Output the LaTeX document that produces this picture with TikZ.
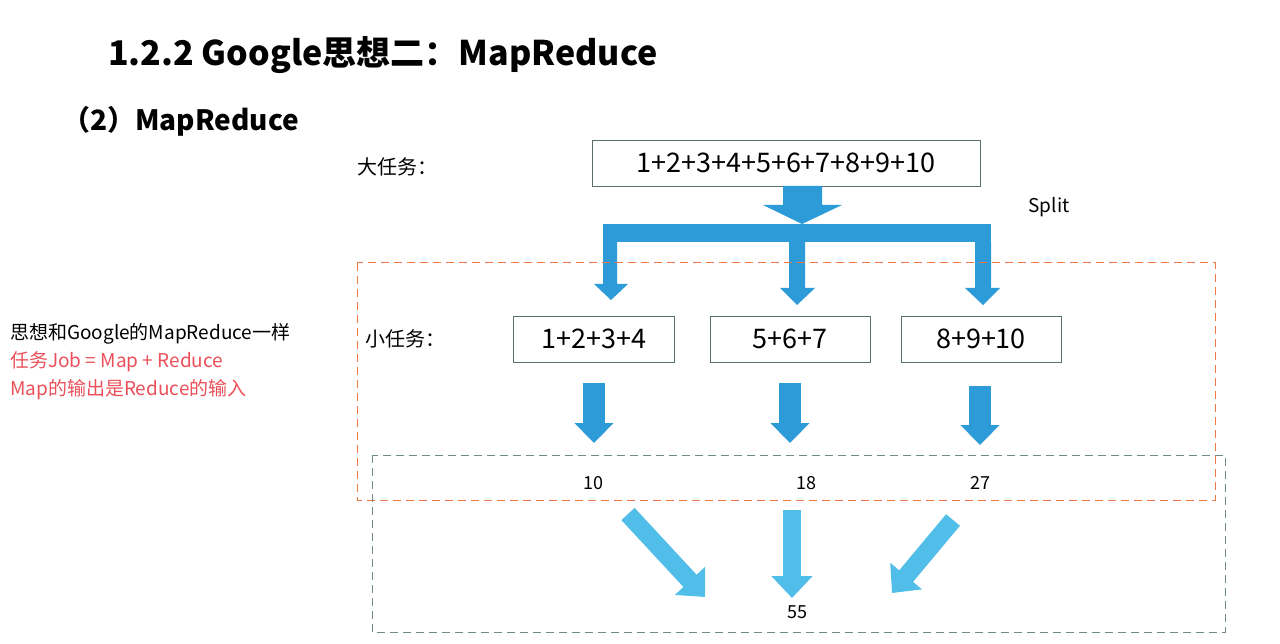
\documentclass[tikz,border=0pt]{standalone}
\usepackage{fontspec}
\setmainfont{Noto Sans CJK SC}
\usetikzlibrary{arrows.meta}
\definecolor{ablue}{RGB}{45,155,215}
\definecolor{lblue}{RGB}{80,190,232}
\definecolor{dorange}{RGB}{240,120,70}
\definecolor{dteal}{RGB}{110,140,140}
\definecolor{rtext}{RGB}{235,80,90}
\tikzset{
 task/.style={draw=dteal!80!black,line width=0.8pt,minimum height=46pt,inner sep=0pt,font=\fontsize{27}{27}\selectfont},
 lbl/.style={font=\fontsize{20}{20}\selectfont,anchor=west,inner sep=0pt},
 num/.style={font=\fontsize{18}{18}\selectfont,inner sep=0pt},
 downarr/.style={draw=ablue,line width=22pt,-{Triangle[length=20pt,width=38pt]}},
 diagarr/.style={draw=lblue,line width=18pt,-{Triangle[length=22pt,width=40pt]}},
 side/.style={font=\fontsize{19}{19}\selectfont,anchor=west,inner sep=0pt},
}
\begin{document}
\begin{tikzpicture}[x=1pt,y=-1pt]
\useasboundingbox[fill=white] (0,0) rectangle (1280,644);
\node[anchor=west,inner sep=0pt,font=\bfseries\fontsize{34}{34}\selectfont] (title) at (108,55) {1.2.2 Google思想二：MapReduce};
\node[anchor=west,inner sep=0pt,font=\bfseries\fontsize{28}{28}\selectfont] (sub) at (62,121) {（2）MapReduce};
\node[lbl] (big) at (357,167) {大任务：};
\node[task,minimum width=388pt] (bt) at (786,163) {1+2+3+4+5+6+7+8+9+10};
\node[font=\fontsize{19}{19}\selectfont,inner sep=0pt] (split) at (1049,207) {Split};
% split arrow
\fill[ablue] (783,186) -- (822,186) -- (822,205) -- (842,205) -- (802,224) -- (763,205) -- (783,205) -- cycle;
\fill[ablue] (603,224) rectangle (991,242);
\fill[ablue] (603,242) -- (617,242) -- (617,284) -- (628,284) -- (611,300) -- (594,284) -- (603,284) -- cycle;
\fill[ablue] (789,242) -- (805,242) -- (805,288) -- (815,288) -- (797,305) -- (780,288) -- (789,288) -- cycle;
\fill[ablue] (975,242) -- (991,242) -- (991,288) -- (1000,288) -- (983,305) -- (965,288) -- (975,288) -- cycle;
\draw[dorange,line width=1pt,dash pattern=on 8pt off 5pt] (357,263) rectangle (1215,500);
\draw[dteal,line width=0.9pt,dash pattern=on 8pt off 5pt] (372,455) rectangle (1225,632);
\node[lbl] (small) at (365,339) {小任务：};
\node[task,minimum width=161pt] (t1) at (594,339) {1+2+3+4};
\node[task,minimum width=160pt] (t2) at (790,339) {5+6+7};
\node[task,minimum width=160pt] (t3) at (981,339) {8+9+10};
\coordinate (a1) at (594,383); \coordinate (b1) at (594,443);
\coordinate (a2) at (790,383); \coordinate (b2) at (790,443);
\coordinate (a3) at (980,386); \coordinate (b3) at (980,445);
\draw[downarr] (a1) -- (b1);
\draw[downarr] (a2) -- (b2);
\draw[downarr] (a3) -- (b3);
\node[num] (n1) at (593,483) {10};
\node[num] (n2) at (806,483) {18};
\node[num] (n3) at (980,483) {27};
\node[num] (n55) at (797,612) {55};
\coordinate (c1) at (628,514); \coordinate (d1) at (705,597);
\coordinate (c2) at (792,510); \coordinate (d2) at (792,598);
\coordinate (c3) at (953,520); \coordinate (d3) at (892,593);
\draw[diagarr] (c1) -- (d1);
\draw[diagarr] (c2) -- (d2);
\draw[diagarr] (c3) -- (d3);
\node[side] (l1) at (10,334) {思想和Google的MapReduce一样};
\node[side,text=rtext] (l2) at (10,362) {任务Job = Map + Reduce};
\node[side,text=rtext] (l3) at (10,390) {Map的输出是Reduce的输入};
\end{tikzpicture}
\end{document}
